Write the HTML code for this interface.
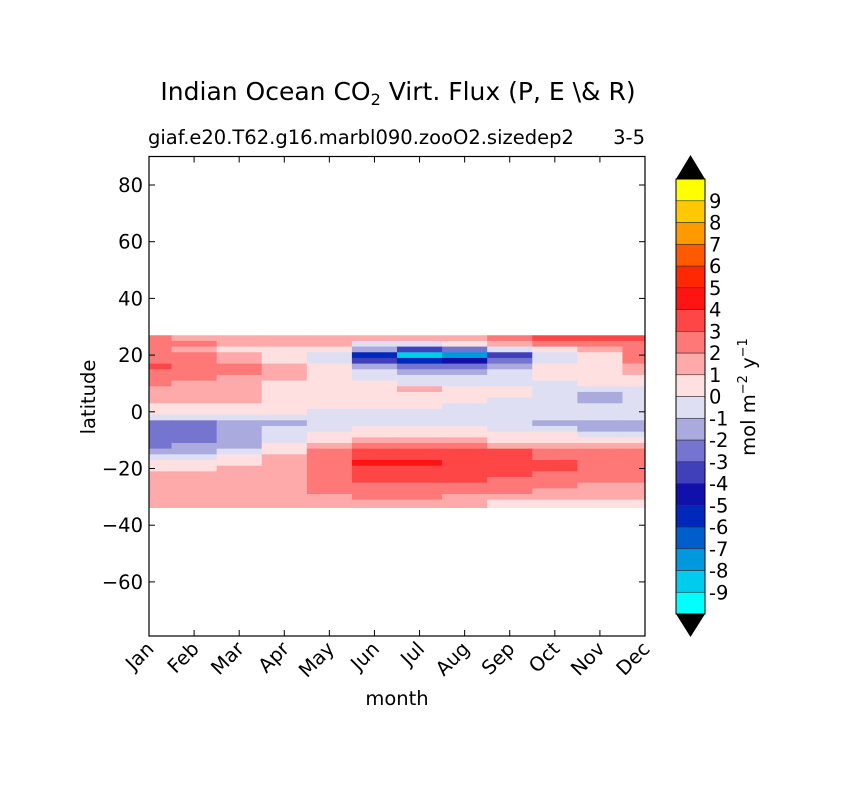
<!DOCTYPE html>
<html><head><meta charset="utf-8"><style>
body{margin:0;background:#fff}
svg{display:block;font-family:"DejaVu Sans","Liberation Sans",sans-serif}
</style></head><body>
<svg id="chart" width="841" height="788" viewBox="0 0 841 788">
<defs><clipPath id="pc"><rect x="149" y="335" width="496" height="173"/></clipPath></defs>
<text x="398" y="100" font-size="25" text-anchor="middle">Indian Ocean CO<tspan font-size="16" dy="5">2</tspan><tspan dy="-5"> Virt. Flux (P, E \&amp; R)</tspan></text>
<text x="148" y="144" font-size="19.5">giaf.e20.T62.g16.marbl090.zooO2.sizedep2</text>
<text x="645" y="144" font-size="19.5" text-anchor="end">3-5</text>
<g id="cells" clip-path="url(#pc)"></g>
<rect x="149" y="156.5" width="496" height="479.5" fill="none" stroke="#000" stroke-width="1.2"/>
<g id="axes"></g>
<text x="397" y="705" font-size="19.5" text-anchor="middle">month</text>
<text transform="translate(95,397) rotate(-90)" font-size="19.5" text-anchor="middle">latitude</text>
<g id="cbar"></g>
<text transform="translate(755,397) rotate(-90)" font-size="19.5" text-anchor="middle">mol m<tspan font-size="13" dy="-8">−2</tspan><tspan dy="8">  y</tspan><tspan font-size="13" dy="-8">−1</tspan></text>
</svg>
<script>
const months=["Jan","Feb","Mar","Apr","May","Jun","Jul","Aug","Sep","Oct","Nov","Dec"];
const latTicks=[80,60,40,20,0,-20,-40,-60];
const cbarLevels=[-10,-9,-8,-7,-6,-5,-4,-3,-2,-1,0,1,2,3,4,5,6,7,8,9,10];
const cbarColors=["#00ffff","#00ccee","#0099dd","#005ecc","#0028bb","#1010aa","#4040bb","#7575d0","#aaaadf","#dedff2","#ffe0e0","#ffaaaa","#ff7878","#ff4646","#ff1414","#ff2800","#ff5a00","#ff9900","#ffc800","#ffff00"];
const lats=[26,24,22,20,18,16,14,12,10,8,6,4,2,0,-2,-4,-6,-8,-10,-12,-14,-16,-18,-20,-22,-24,-26,-28,-30,-32,-34];
const values=[
[2.5,1.5,1.5,1.5,1.5,1.5,1.5,1.5,2.5,3.5,3.5,3.5],
[2.5,2.5,1.5,1.5,1.5,-0.5,-0.5,0.5,1.5,2.5,2.5,2.5],
[2.5,1.5,0.5,0.5,0.5,-1.5,-3.5,-2.5,-0.5,0.5,1.5,2.5],
[2.5,2.5,1.5,0.5,-0.5,-5.5,-8.5,-7.5,-3.5,-0.5,0.5,2.5],
[2.5,2.5,1.5,0.5,-0.5,-3.5,-5.5,-4.5,-2.5,-0.5,0.5,2.5],
[3.5,2.5,2.5,1.5,0.5,-1.5,-2.5,-2.5,-1.5,0.5,0.5,1.5],
[2.5,2.5,2.5,1.5,0.5,-0.5,-1.5,-1.5,-0.5,0.5,0.5,1.5],
[2.5,2.5,1.5,1.5,0.5,-0.5,-0.5,-0.5,-0.5,0.5,0.5,0.5],
[2.5,1.5,1.5,0.5,0.5,0.5,-0.5,-0.5,-0.5,-0.5,0.5,0.5],
[1.5,1.5,1.5,0.5,0.5,0.5,1.5,0.5,0.5,-0.5,-0.5,-0.5],
[1.5,1.5,1.5,0.5,0.5,0.5,0.5,0.5,0.5,-0.5,-1.5,-0.5],
[1.5,1.5,1.5,0.5,0.5,0.5,0.5,0.5,-0.5,-0.5,-1.5,-0.5],
[0.5,0.5,0.5,0.5,0.5,0.5,0.5,-0.5,-0.5,-0.5,-0.5,-0.5],
[0.5,0.5,0.5,0.5,-0.5,-0.5,-0.5,-0.5,-0.5,-0.5,-0.5,-0.5],
[-0.5,-0.5,-0.5,-0.5,-0.5,-0.5,-0.5,-0.5,-0.5,-0.5,-0.5,-0.5],
[-2.5,-2.5,-1.5,-1.5,-0.5,-0.5,-0.5,-0.5,-0.5,-1.5,-1.5,-1.5],
[-2.5,-2.5,-1.5,-0.5,-0.5,0.5,0.5,0.5,-0.5,-0.5,-1.5,-1.5],
[-2.5,-2.5,-1.5,-0.5,0.5,0.5,0.5,0.5,0.5,0.5,-0.5,-0.5],
[-2.5,-2.5,-1.5,-0.5,0.5,1.5,1.5,1.5,0.5,0.5,0.5,0.5],
[-2.5,-1.5,-1.5,0.5,1.5,2.5,2.5,2.5,1.5,1.5,1.5,1.5],
[-1.5,-1.5,-0.5,0.5,2.5,3.5,3.5,3.5,3.5,2.5,2.5,2.5],
[-0.5,-0.5,0.5,1.5,2.5,3.5,3.5,3.5,3.5,2.5,2.5,2.5],
[0.5,0.5,0.5,1.5,2.5,4.5,4.5,3.5,3.5,3.5,2.5,2.5],
[0.5,0.5,1.5,1.5,2.5,3.5,3.5,3.5,3.5,3.5,2.5,2.5],
[1.5,1.5,1.5,1.5,2.5,3.5,3.5,3.5,3.5,2.5,2.5,2.5],
[1.5,1.5,1.5,1.5,2.5,3.5,3.5,3.5,2.5,2.5,2.5,2.5],
[1.5,1.5,1.5,1.5,2.5,2.5,2.5,2.5,2.5,2.5,1.5,1.5],
[1.5,1.5,1.5,1.5,2.5,2.5,2.5,2.5,2.5,1.5,1.5,1.5],
[1.5,1.5,1.5,1.5,1.5,2.5,2.5,1.5,1.5,1.5,1.5,1.5],
[1.5,1.5,1.5,1.5,1.5,1.5,1.5,1.5,0.5,0.5,0.5,0.5],
[1.5,1.5,1.5,1.5,1.5,1.5,1.5,1.5,0.5,0.5,0.5,0.5]
];
const NS="http://www.w3.org/2000/svg";
function xM(i){return 149+i*(496/11);}
function yL(l){return 185+(80-l)*2.835;}
function mk(tag,attrs,parent){const e=document.createElementNS(NS,tag);for(const k in attrs)e.setAttribute(k,attrs[k]);parent.appendChild(e);return e;}
function colorFor(v){let i=Math.floor(v)+10;if(i<0)i=0;if(i>19)i=19;return cbarColors[i];}
const cells=document.getElementById('cells');
const cw=496/11;
lats.forEach((lat,r)=>{values[r].forEach((v,c)=>{
  const y0=yL(lat+1),y1=yL(lat-1);
  const el=mk('rect',{x:xM(c)-cw/2,y:y0,width:cw+0.6,height:y1-y0+0.6,fill:colorFor(v)},cells);
  
  
});});
const axes=document.getElementById('axes');
latTicks.forEach(t=>{
  const y=yL(t);
  mk('line',{x1:149,y1:y,x2:155,y2:y,stroke:'#000'},axes);
  mk('line',{x1:645,y1:y,x2:639,y2:y,stroke:'#000'},axes);
  const tx=mk('text',{x:143,y:y+7,'font-size':19.5,'text-anchor':'end'},axes);
  tx.textContent=t<0?'\u2212'+(-t):String(t);
  
  
});
months.forEach((m,i)=>{
  const x=xM(i);
  mk('line',{x1:x,y1:636,x2:x,y2:630,stroke:'#000'},axes);
  mk('line',{x1:x,y1:156.5,x2:x,y2:162.5,stroke:'#000'},axes);
  const tx=mk('text',{transform:`translate(${x+6},${650}) rotate(-45)`,'font-size':19.5,'text-anchor':'end'},axes);
  tx.textContent=m;
  
  
});
const cb=document.getElementById('cbar');
const cbTop=179,cbBot=614,cbX=676,cbW=29,seg=(cbBot-cbTop)/20;
function yC(v){return cbBot-(v+10)*seg;}
cbarColors.forEach((col,i)=>{
  const el=mk('rect',{x:cbX,y:yC(cbarLevels[i+1]),width:cbW,height:seg,fill:col,stroke:'#333','stroke-width':0.6},cb);
  
  
});
mk('polygon',{points:`${cbX},${cbTop} ${cbX+cbW},${cbTop} ${cbX+cbW/2},155`,fill:'#000'},cb);
mk('polygon',{points:`${cbX},${cbBot} ${cbX+cbW},${cbBot} ${cbX+cbW/2},637`,fill:'#000'},cb);
mk('rect',{x:cbX,y:cbTop,width:cbW,height:cbBot-cbTop,fill:'none',stroke:'#000','stroke-width':1},cb);
cbarLevels.slice(1,-1).forEach(v=>{
  const t=mk('text',{x:709,y:yC(v)+7,'font-size':19.5},cb);
  t.textContent=v<0?'-'+(-v):String(v);
  
  
});
</script>
</body></html>
